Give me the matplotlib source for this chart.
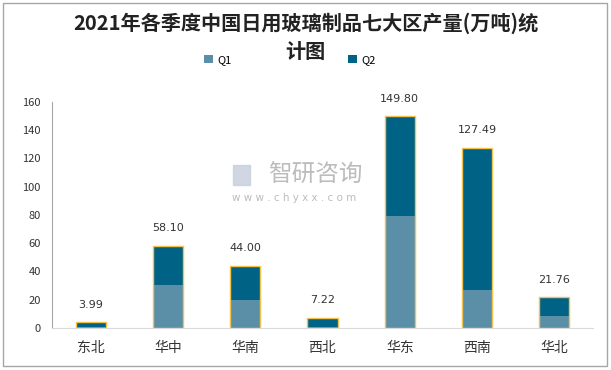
import matplotlib.pyplot as plt
from matplotlib.patches import Rectangle

plt.rcParams['font.family'] = ['Noto Sans CJK SC', 'DejaVu Sans']

# data
regions = ["东北", "华中", "华南", "西北", "华东", "西南", "华北"]
q1 = [0.5, 30.6, 20.0, 0.8, 79.5, 27.1, 8.7]
totals = [3.99, 58.10, 44.00, 7.22, 149.80, 127.49, 21.76]
q2 = [t - a for t, a in zip(totals, q1)]

c_q1 = "#5B8FA7"
c_q2 = "#006385"
c_edge = "#F2C14E"

fig = plt.figure(figsize=(6.11, 3.70), dpi=100)
fig.patches.append(Rectangle((0.005, 0.01), 0.988, 0.982, transform=fig.transFigure,
                             fill=False, edgecolor="#A6A6A6", linewidth=1))
ax = fig.add_axes([0.085, 0.1135, 0.8855, 0.611])

x = list(range(len(regions)))
w = 0.39
ax.bar(x, q1, width=w, color=c_q1, label="Q1")
ax.bar(x, q2, width=w, bottom=q1, color=c_q2, label="Q2")
ax.bar(x, totals, width=w, fill=False, edgecolor=c_edge, linewidth=1.0)

for xi, t in zip(x, totals):
    ax.text(xi, t + 9, f"{t:.2f}", ha="center", va="bottom", fontsize=8, color="#333333",
            family="DejaVu Sans")

ax.set_xlim(-0.5, 6.5)
ax.set_ylim(0, 160)
ax.set_yticks(range(0, 161, 20))
ax.set_xticks(x)
ax.set_xticklabels(regions, fontsize=10, color="#333333")
ax.tick_params(axis="y", labelsize=8, colors="#333333", length=0, pad=8)
ax.tick_params(axis="x", length=0, pad=9)
for s in ["top", "right"]:
    ax.spines[s].set_visible(False)
ax.spines["left"].set_color("#A6A6A6")
ax.spines["bottom"].set_color("#D9D9D9")

# title and legend
fig.text(0.5, 0.938, "2021年各季度中国日用玻璃制品七大区产量(万吨)统", ha="center", va="center",
         fontsize=14.5, fontweight="bold", color="#222222")
fig.text(0.5, 0.862, "计图", ha="center", va="center",
         fontsize=14.5, fontweight="bold", color="#222222")
fig.legend(loc="center", bbox_to_anchor=(0.475, 0.838), ncol=2, frameon=False,
           fontsize=8, handlelength=0.8, handleheight=0.8, columnspacing=10.5, handletextpad=0.4)

# watermark
fig.text(0.438, 0.527, "智研咨询", fontsize=17, color="#ABABAB", alpha=0.8, va="center")
fig.text(0.38, 0.465, "w w w . c h y x x . c o m", fontsize=7.5, color="#ABABAB", alpha=0.8,
         va="center", family="DejaVu Sans")
fig.patches.append(Rectangle((0.381, 0.5), 0.028, 0.055, transform=fig.transFigure,
                             color="#C5CEDD", alpha=0.8))

fig.savefig("out.png", dpi=100)
